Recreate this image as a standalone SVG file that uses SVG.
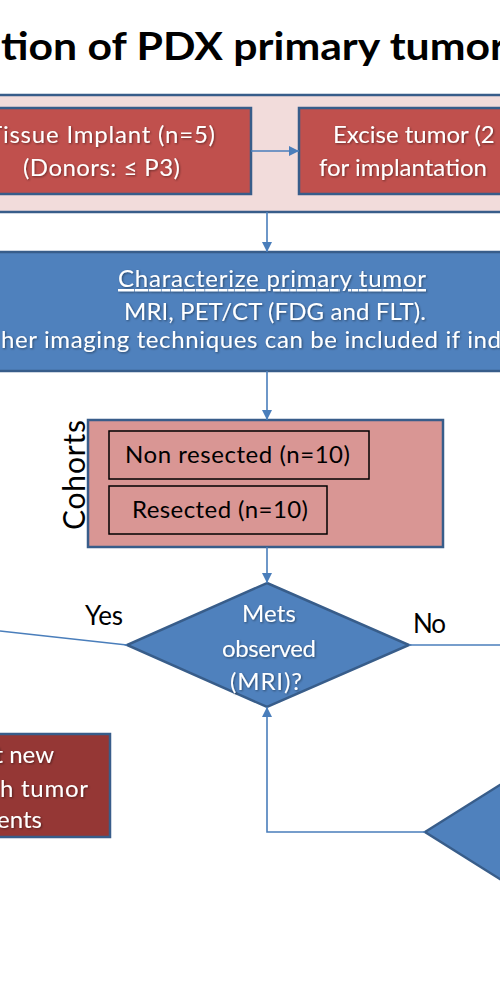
<svg xmlns="http://www.w3.org/2000/svg" width="500" height="1000" viewBox="0 0 500 1000">
<defs>
<marker id="arr" viewBox="0 0 10 10" refX="10" refY="5" markerWidth="10" markerHeight="10" markerUnits="userSpaceOnUse" orient="auto">
<path d="M0,0 L10,5 L0,10 z" fill="#4A7EBB"/>
</marker>
<filter id="sh" x="-10%" y="-30%" width="120%" height="160%">
<feDropShadow dx="1" dy="1" stdDeviation="0.8" flood-color="#000" flood-opacity="0.45"/>
</filter>
</defs>
<style>
text{font-family:Lato,"Liberation Sans",sans-serif;font-size:24px}
.w{fill:#fff;filter:url(#sh)}
.k{fill:#000}
.mid{text-anchor:middle}
.box{stroke:#385D8A;stroke-width:2.5}
.red{fill:#C0504D}
.blue{fill:#4F81BD}
.pink{fill:#D99694}
.con{fill:none;stroke:#4A7EBB;stroke-width:1.6}
</style>
<rect width="500" height="1000" fill="#fff"/>
<g id="title">
<text x="1" y="60" style="font-size:39px;font-weight:bold" textLength="505" lengthAdjust="spacingAndGlyphs">tion of PDX primary tumor</text>
</g>
<g id="implant-group">
<rect x="-50" y="95" width="600" height="117" fill="#F2DCDB" class="box"/>
</g>
<g id="tissue-implant">
<rect x="-47" y="108" width="298" height="86" class="red box"/>
<text x="101.5" y="143" class="w mid" textLength="227">Tissue Implant (n=5)</text>
<text x="101.5" y="176" class="w mid" textLength="157">(Donors: ≤ P3)</text>
</g>
<g id="excise-tumor">
<rect x="299" y="108" width="300" height="86" class="red box"/>
<text x="333" y="143" class="w">Excise tumor (2</text>
<text x="319" y="176" class="w">for implantation</text>
</g>
<g id="characterize">
<rect x="-50" y="252" width="600" height="119" class="blue box"/>
<text x="272" y="287" class="w mid" text-decoration="underline" textLength="308">Characterize primary tumor</text>
<text x="275" y="320" class="w mid" textLength="302">MRI, PET/CT (FDG and FLT).</text>
<text x="1" y="348" class="w" textLength="500">her imaging techniques can be included if ind</text>
</g>
<g id="cohorts">
<rect x="88" y="420" width="355" height="127" class="pink box"/>
<text transform="translate(85,475) rotate(-90)" class="k mid" style="font-size:30px" textLength="110">Cohorts</text>
</g>
<g id="non-resected">
<rect x="109" y="431" width="260" height="48" class="pink" stroke="#000" stroke-width="1.5"/>
<text x="125" y="463" class="k" textLength="225">Non resected (n=10)</text>
</g>
<g id="resected">
<rect x="109" y="486" width="218" height="48" class="pink" stroke="#000" stroke-width="1.5"/>
<text x="132" y="518" class="k" textLength="176">Resected (n=10)</text>
</g>
<g id="mets-decision">
<polygon points="267,583 409,645 267,707 127,645" class="blue box"/>
<text x="269" y="622" class="w mid" textLength="54">Mets</text>
<text x="269" y="657" class="w mid" textLength="94">observed</text>
<text x="266" y="690" class="w mid" textLength="72">(MRI)?</text>
</g>
<g id="implant-new">
<rect x="-100" y="734" width="210" height="103" fill="#953735" class="box"/>
<text x="54" y="763" class="w" text-anchor="end">t new</text>
<text x="88" y="797" class="w" text-anchor="end" textLength="88">h tumor</text>
<text x="42" y="828" class="w" text-anchor="end">ents</text>
</g>
<g id="second-decision">
<polygon points="425,832 600,722 775,832 600,942" class="blue box"/>
</g>
<g id="labels">
<text x="85" y="625" class="k" style="font-size:26px" textLength="38">Yes</text>
<text x="413" y="633" class="k" style="font-size:26px" textLength="33">No</text>
</g>
<g id="connectors">
<line x1="251" y1="151" x2="299" y2="151" class="con" marker-end="url(#arr)"/>
<line x1="267" y1="212" x2="267" y2="252" class="con" marker-end="url(#arr)"/>
<line x1="267" y1="371" x2="267" y2="420" class="con" marker-end="url(#arr)"/>
<line x1="267" y1="547" x2="267" y2="583" class="con" marker-end="url(#arr)"/>
<line x1="127" y1="645" x2="0" y2="631" class="con"/>
<line x1="409" y1="645" x2="500" y2="645" class="con"/>
<polyline points="425,832 267,832 267,707" class="con" marker-end="url(#arr)"/>
</g>
</svg>
